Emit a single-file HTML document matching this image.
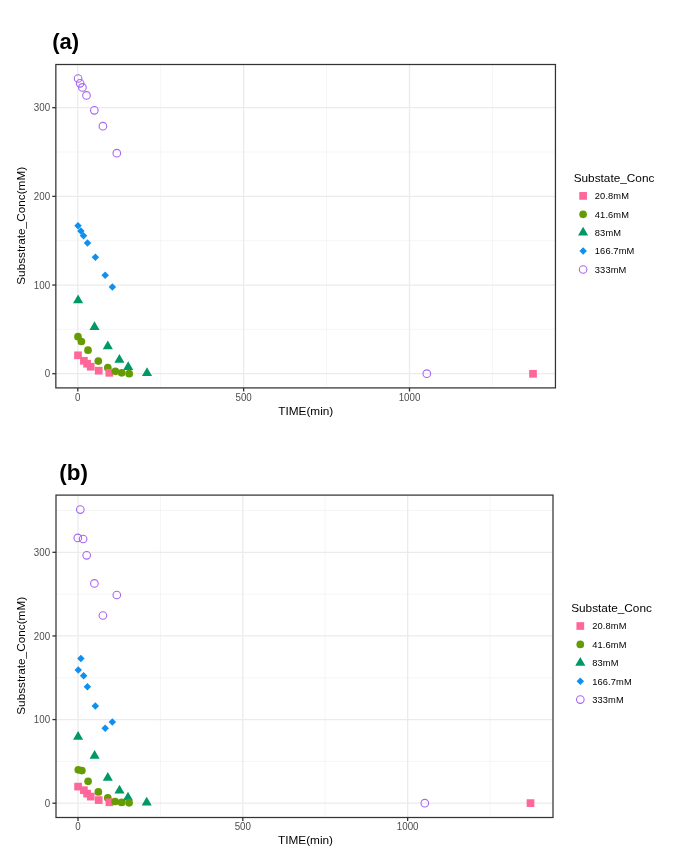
<!DOCTYPE html>
<html><head><meta charset="utf-8"><style>
html,body{margin:0;padding:0;background:#fff;}
body{width:690px;height:863px;overflow:hidden;}
svg{display:block;filter:blur(0.3px);}
text{font-family:"Liberation Sans", sans-serif;}
.tk{font-size:10.4px;fill:#4D4D4D;}
.at{font-size:11.8px;fill:#000000;}
.ti{font-size:22px;font-weight:bold;fill:#000;}
.lt{font-size:11.8px;fill:#000000;}
.ll{font-size:9.3px;fill:#000000;}
</style></head><body>
<svg width="690" height="863" viewBox="0 0 690 863">
<rect width="690" height="863" fill="#fff"/>
<rect x="55.85" y="64.5" width="499.6" height="323.4" fill="#fff"/>
<line x1="160.72" y1="64.5" x2="160.72" y2="387.9" stroke="#F0F0F0" stroke-width="0.7"/>
<line x1="326.57" y1="64.5" x2="326.57" y2="387.9" stroke="#F0F0F0" stroke-width="0.7"/>
<line x1="492.43" y1="64.5" x2="492.43" y2="387.9" stroke="#F0F0F0" stroke-width="0.7"/>
<line x1="55.85" y1="329.37" x2="555.45" y2="329.37" stroke="#F0F0F0" stroke-width="0.7"/>
<line x1="55.85" y1="240.69" x2="555.45" y2="240.69" stroke="#F0F0F0" stroke-width="0.7"/>
<line x1="55.85" y1="152.02" x2="555.45" y2="152.02" stroke="#F0F0F0" stroke-width="0.7"/>
<line x1="77.80" y1="64.5" x2="77.80" y2="387.9" stroke="#EBEBEB" stroke-width="1.3"/>
<line x1="243.65" y1="64.5" x2="243.65" y2="387.9" stroke="#EBEBEB" stroke-width="1.3"/>
<line x1="409.50" y1="64.5" x2="409.50" y2="387.9" stroke="#EBEBEB" stroke-width="1.3"/>
<line x1="55.85" y1="373.70" x2="555.45" y2="373.70" stroke="#EBEBEB" stroke-width="1.3"/>
<line x1="55.85" y1="285.03" x2="555.45" y2="285.03" stroke="#EBEBEB" stroke-width="1.3"/>
<line x1="55.85" y1="196.36" x2="555.45" y2="196.36" stroke="#EBEBEB" stroke-width="1.3"/>
<line x1="55.85" y1="107.69" x2="555.45" y2="107.69" stroke="#EBEBEB" stroke-width="1.3"/>
<rect x="74.15" y="351.45" width="7.7" height="7.7" fill="#FF6699"/>
<circle cx="78.00" cy="336.70" r="3.85" fill="#669C03"/>
<path d="M78.00 221.90L81.75 225.65L78.00 229.40L74.25 225.65Z" fill="#0F90F0"/>
<path d="M78.10 294.47L83.15 303.22L73.05 303.22Z" fill="#009966"/>
<circle cx="78.10" cy="78.50" r="3.8" fill="none" stroke="#A866F0" stroke-width="1.1"/>
<circle cx="80.10" cy="83.30" r="3.8" fill="none" stroke="#A866F0" stroke-width="1.1"/>
<path d="M80.90 227.15L84.65 230.90L80.90 234.65L77.15 230.90Z" fill="#0F90F0"/>
<circle cx="81.40" cy="341.50" r="3.85" fill="#669C03"/>
<circle cx="82.40" cy="87.40" r="3.8" fill="none" stroke="#A866F0" stroke-width="1.1"/>
<path d="M83.50 231.95L87.25 235.70L83.50 239.45L79.75 235.70Z" fill="#0F90F0"/>
<rect x="80.05" y="356.95" width="7.7" height="7.7" fill="#FF6699"/>
<circle cx="86.50" cy="95.40" r="3.8" fill="none" stroke="#A866F0" stroke-width="1.1"/>
<rect x="83.25" y="359.85" width="7.7" height="7.7" fill="#FF6699"/>
<path d="M87.50 239.25L91.25 243.00L87.50 246.75L83.75 243.00Z" fill="#0F90F0"/>
<circle cx="88.00" cy="350.20" r="3.85" fill="#669C03"/>
<rect x="86.85" y="362.85" width="7.7" height="7.7" fill="#FF6699"/>
<circle cx="94.35" cy="110.30" r="3.8" fill="none" stroke="#A866F0" stroke-width="1.1"/>
<path d="M94.50 321.37L99.55 330.12L89.45 330.12Z" fill="#009966"/>
<path d="M95.40 253.55L99.15 257.30L95.40 261.05L91.65 257.30Z" fill="#0F90F0"/>
<circle cx="98.30" cy="361.10" r="3.85" fill="#669C03"/>
<rect x="94.85" y="366.85" width="7.7" height="7.7" fill="#FF6699"/>
<circle cx="102.90" cy="126.20" r="3.8" fill="none" stroke="#A866F0" stroke-width="1.1"/>
<path d="M105.20 271.45L108.95 275.20L105.20 278.95L101.45 275.20Z" fill="#0F90F0"/>
<circle cx="107.80" cy="367.70" r="3.85" fill="#669C03"/>
<path d="M107.80 340.47L112.85 349.22L102.75 349.22Z" fill="#009966"/>
<rect x="105.45" y="368.95" width="7.7" height="7.7" fill="#FF6699"/>
<path d="M112.40 283.35L116.15 287.10L112.40 290.85L108.65 287.10Z" fill="#0F90F0"/>
<circle cx="115.40" cy="371.30" r="3.85" fill="#669C03"/>
<circle cx="116.80" cy="153.20" r="3.8" fill="none" stroke="#A866F0" stroke-width="1.1"/>
<path d="M119.40 353.97L124.45 362.72L114.35 362.72Z" fill="#009966"/>
<circle cx="121.70" cy="372.80" r="3.85" fill="#669C03"/>
<path d="M128.20 361.17L133.25 369.92L123.15 369.92Z" fill="#009966"/>
<circle cx="129.20" cy="373.70" r="3.85" fill="#669C03"/>
<path d="M147.00 367.27L152.05 376.02L141.95 376.02Z" fill="#009966"/>
<circle cx="426.80" cy="373.70" r="3.8" fill="none" stroke="#A866F0" stroke-width="1.1"/>
<rect x="529.15" y="369.95" width="7.7" height="7.7" fill="#FF6699"/>
<rect x="55.85" y="64.5" width="499.6" height="323.4" fill="none" stroke="#333333" stroke-width="1.25"/>
<line x1="77.80" y1="387.9" x2="77.80" y2="391.5" stroke="#333333" stroke-width="1.3"/>
<text transform="translate(77.80 401.0) scale(0.94 1)" text-anchor="middle" class="tk">0</text>
<line x1="243.65" y1="387.9" x2="243.65" y2="391.5" stroke="#333333" stroke-width="1.3"/>
<text transform="translate(243.65 401.0) scale(0.94 1)" text-anchor="middle" class="tk">500</text>
<line x1="409.50" y1="387.9" x2="409.50" y2="391.5" stroke="#333333" stroke-width="1.3"/>
<text transform="translate(409.50 401.0) scale(0.94 1)" text-anchor="middle" class="tk">1000</text>
<line x1="52.25" y1="373.70" x2="55.85" y2="373.70" stroke="#333333" stroke-width="1.3"/>
<text transform="translate(50.1 377.30) scale(0.94 1)" text-anchor="end" class="tk">0</text>
<line x1="52.25" y1="285.03" x2="55.85" y2="285.03" stroke="#333333" stroke-width="1.3"/>
<text transform="translate(50.1 288.63) scale(0.94 1)" text-anchor="end" class="tk">100</text>
<line x1="52.25" y1="196.36" x2="55.85" y2="196.36" stroke="#333333" stroke-width="1.3"/>
<text transform="translate(50.1 199.96) scale(0.94 1)" text-anchor="end" class="tk">200</text>
<line x1="52.25" y1="107.69" x2="55.85" y2="107.69" stroke="#333333" stroke-width="1.3"/>
<text transform="translate(50.1 111.29) scale(0.94 1)" text-anchor="end" class="tk">300</text>
<text x="305.75" y="415.0" text-anchor="middle" class="at">TIME(min)</text>
<text transform="translate(25.2 225.8) rotate(-90)" x="0" y="0" text-anchor="middle" class="at">Subsstrate_Conc(mM)</text>
<text x="52.2" y="48.8" class="ti" style="font-size:22.0px">(a)</text>
<text x="573.6999999999999" y="181.7" class="lt">Substate_Conc</text>
<rect x="579.25" y="192.05" width="7.7" height="7.7" fill="#FF6699"/>
<text x="594.8" y="199.20" class="ll" letter-spacing="0.12">20.8mM</text>
<circle cx="583.10" cy="214.30" r="3.85" fill="#669C03"/>
<text x="594.8" y="217.60" class="ll" letter-spacing="0.12">41.6mM</text>
<path d="M583.10 226.87L588.15 235.62L578.05 235.62Z" fill="#009966"/>
<text x="594.8" y="236.00" class="ll" letter-spacing="0.12">83mM</text>
<path d="M583.10 247.35L586.85 251.10L583.10 254.85L579.35 251.10Z" fill="#0F90F0"/>
<text x="594.8" y="254.40" class="ll" letter-spacing="0.12">166.7mM</text>
<circle cx="583.10" cy="269.50" r="3.8" fill="none" stroke="#A866F0" stroke-width="1.1"/>
<text x="594.8" y="272.80" class="ll" letter-spacing="0.12">333mM</text>
<rect x="56.0" y="495.1" width="497.0" height="322.4" fill="#fff"/>
<line x1="160.41" y1="495.1" x2="160.41" y2="817.5" stroke="#F0F0F0" stroke-width="0.7"/>
<line x1="325.24" y1="495.1" x2="325.24" y2="817.5" stroke="#F0F0F0" stroke-width="0.7"/>
<line x1="490.06" y1="495.1" x2="490.06" y2="817.5" stroke="#F0F0F0" stroke-width="0.7"/>
<line x1="56.0" y1="761.38" x2="553.0" y2="761.38" stroke="#F0F0F0" stroke-width="0.7"/>
<line x1="56.0" y1="677.75" x2="553.0" y2="677.75" stroke="#F0F0F0" stroke-width="0.7"/>
<line x1="56.0" y1="594.12" x2="553.0" y2="594.12" stroke="#F0F0F0" stroke-width="0.7"/>
<line x1="56.0" y1="510.50" x2="553.0" y2="510.50" stroke="#F0F0F0" stroke-width="0.7"/>
<line x1="78.00" y1="495.1" x2="78.00" y2="817.5" stroke="#EBEBEB" stroke-width="1.3"/>
<line x1="242.82" y1="495.1" x2="242.82" y2="817.5" stroke="#EBEBEB" stroke-width="1.3"/>
<line x1="407.65" y1="495.1" x2="407.65" y2="817.5" stroke="#EBEBEB" stroke-width="1.3"/>
<line x1="56.0" y1="803.20" x2="553.0" y2="803.20" stroke="#EBEBEB" stroke-width="1.3"/>
<line x1="56.0" y1="719.57" x2="553.0" y2="719.57" stroke="#EBEBEB" stroke-width="1.3"/>
<line x1="56.0" y1="635.94" x2="553.0" y2="635.94" stroke="#EBEBEB" stroke-width="1.3"/>
<line x1="56.0" y1="552.31" x2="553.0" y2="552.31" stroke="#EBEBEB" stroke-width="1.3"/>
<circle cx="77.80" cy="537.90" r="3.8" fill="none" stroke="#A866F0" stroke-width="1.1"/>
<rect x="74.25" y="782.75" width="7.7" height="7.7" fill="#FF6699"/>
<path d="M78.10 731.07L83.15 739.82L73.05 739.82Z" fill="#009966"/>
<path d="M78.25 666.25L82.00 670.00L78.25 673.75L74.50 670.00Z" fill="#0F90F0"/>
<circle cx="78.30" cy="769.80" r="3.85" fill="#669C03"/>
<circle cx="80.30" cy="509.60" r="3.8" fill="none" stroke="#A866F0" stroke-width="1.1"/>
<path d="M80.90 654.85L84.65 658.60L80.90 662.35L77.15 658.60Z" fill="#0F90F0"/>
<circle cx="81.90" cy="770.60" r="3.85" fill="#669C03"/>
<circle cx="83.10" cy="539.00" r="3.8" fill="none" stroke="#A866F0" stroke-width="1.1"/>
<path d="M83.60 672.05L87.35 675.80L83.60 679.55L79.85 675.80Z" fill="#0F90F0"/>
<rect x="80.05" y="786.35" width="7.7" height="7.7" fill="#FF6699"/>
<circle cx="86.70" cy="555.30" r="3.8" fill="none" stroke="#A866F0" stroke-width="1.1"/>
<rect x="83.25" y="789.75" width="7.7" height="7.7" fill="#FF6699"/>
<path d="M87.40 682.95L91.15 686.70L87.40 690.45L83.65 686.70Z" fill="#0F90F0"/>
<circle cx="88.10" cy="781.30" r="3.85" fill="#669C03"/>
<rect x="86.85" y="792.75" width="7.7" height="7.7" fill="#FF6699"/>
<circle cx="94.40" cy="583.40" r="3.8" fill="none" stroke="#A866F0" stroke-width="1.1"/>
<path d="M94.60 750.07L99.65 758.82L89.55 758.82Z" fill="#009966"/>
<path d="M95.30 702.25L99.05 706.00L95.30 709.75L91.55 706.00Z" fill="#0F90F0"/>
<circle cx="98.35" cy="791.90" r="3.85" fill="#669C03"/>
<rect x="94.85" y="796.25" width="7.7" height="7.7" fill="#FF6699"/>
<circle cx="102.90" cy="615.50" r="3.8" fill="none" stroke="#A866F0" stroke-width="1.1"/>
<path d="M105.20 724.55L108.95 728.30L105.20 732.05L101.45 728.30Z" fill="#0F90F0"/>
<circle cx="107.80" cy="797.90" r="3.85" fill="#669C03"/>
<path d="M107.80 771.97L112.85 780.72L102.75 780.72Z" fill="#009966"/>
<rect x="105.55" y="798.45" width="7.7" height="7.7" fill="#FF6699"/>
<path d="M112.30 718.15L116.05 721.90L112.30 725.65L108.55 721.90Z" fill="#0F90F0"/>
<circle cx="115.20" cy="801.50" r="3.85" fill="#669C03"/>
<circle cx="116.80" cy="595.00" r="3.8" fill="none" stroke="#A866F0" stroke-width="1.1"/>
<path d="M119.50 784.77L124.55 793.52L114.45 793.52Z" fill="#009966"/>
<circle cx="121.65" cy="802.40" r="3.85" fill="#669C03"/>
<path d="M128.00 791.67L133.05 800.42L122.95 800.42Z" fill="#009966"/>
<circle cx="129.10" cy="802.80" r="3.85" fill="#669C03"/>
<path d="M146.70 796.87L151.75 805.62L141.65 805.62Z" fill="#009966"/>
<circle cx="424.80" cy="803.20" r="3.8" fill="none" stroke="#A866F0" stroke-width="1.1"/>
<rect x="526.65" y="799.25" width="7.7" height="7.7" fill="#FF6699"/>
<rect x="56.0" y="495.1" width="497.0" height="322.4" fill="none" stroke="#333333" stroke-width="1.25"/>
<line x1="78.00" y1="817.5" x2="78.00" y2="821.1" stroke="#333333" stroke-width="1.3"/>
<text transform="translate(78.00 829.8) scale(0.94 1)" text-anchor="middle" class="tk">0</text>
<line x1="242.82" y1="817.5" x2="242.82" y2="821.1" stroke="#333333" stroke-width="1.3"/>
<text transform="translate(242.82 829.8) scale(0.94 1)" text-anchor="middle" class="tk">500</text>
<line x1="407.65" y1="817.5" x2="407.65" y2="821.1" stroke="#333333" stroke-width="1.3"/>
<text transform="translate(407.65 829.8) scale(0.94 1)" text-anchor="middle" class="tk">1000</text>
<line x1="52.4" y1="803.20" x2="56.0" y2="803.20" stroke="#333333" stroke-width="1.3"/>
<text transform="translate(50.1 806.80) scale(0.94 1)" text-anchor="end" class="tk">0</text>
<line x1="52.4" y1="719.57" x2="56.0" y2="719.57" stroke="#333333" stroke-width="1.3"/>
<text transform="translate(50.1 723.17) scale(0.94 1)" text-anchor="end" class="tk">100</text>
<line x1="52.4" y1="635.94" x2="56.0" y2="635.94" stroke="#333333" stroke-width="1.3"/>
<text transform="translate(50.1 639.54) scale(0.94 1)" text-anchor="end" class="tk">200</text>
<line x1="52.4" y1="552.31" x2="56.0" y2="552.31" stroke="#333333" stroke-width="1.3"/>
<text transform="translate(50.1 555.91) scale(0.94 1)" text-anchor="end" class="tk">300</text>
<text x="305.5" y="843.9" text-anchor="middle" class="at">TIME(min)</text>
<text transform="translate(25.2 655.8) rotate(-90)" x="0" y="0" text-anchor="middle" class="at">Subsstrate_Conc(mM)</text>
<text x="59.3" y="479.6" class="ti" style="font-size:22.4px">(b)</text>
<text x="571.1999999999999" y="612.1" class="lt">Substate_Conc</text>
<rect x="576.45" y="622.15" width="7.7" height="7.7" fill="#FF6699"/>
<text x="592.2" y="629.30" class="ll" letter-spacing="0.12">20.8mM</text>
<circle cx="580.30" cy="644.40" r="3.85" fill="#669C03"/>
<text x="592.2" y="647.70" class="ll" letter-spacing="0.12">41.6mM</text>
<path d="M580.30 656.97L585.35 665.72L575.25 665.72Z" fill="#009966"/>
<text x="592.2" y="666.10" class="ll" letter-spacing="0.12">83mM</text>
<path d="M580.30 677.45L584.05 681.20L580.30 684.95L576.55 681.20Z" fill="#0F90F0"/>
<text x="592.2" y="684.50" class="ll" letter-spacing="0.12">166.7mM</text>
<circle cx="580.30" cy="699.60" r="3.8" fill="none" stroke="#A866F0" stroke-width="1.1"/>
<text x="592.2" y="702.90" class="ll" letter-spacing="0.12">333mM</text>
</svg>
</body></html>
